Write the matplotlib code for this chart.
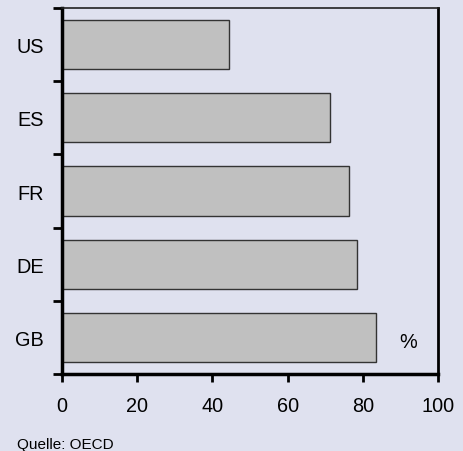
import numpy as np
import matplotlib.pyplot as plt

plt.rcParams['font.family'] = ['Liberation Sans', 'DejaVu Sans']

countries = ['GB', 'DE', 'FR', 'ES', 'US']
shares = [83.5, 78.4, 76.3, 71.3, 44.4]
x_ticks = [0, 20, 40, 60, 80, 100]

BG = '#DFE1EF'
FS = 14.3

fig = plt.figure(figsize=(4.64, 4.52), dpi=100, facecolor=BG)
ax = fig.add_axes([62/464, 77/452, 376/464, 366/452], facecolor=BG)

pos = np.arange(len(countries))
ax.barh(pos, shares, height=0.67, color='#C0C0C0', edgecolor='#333333', linewidth=1.0)

ax.set_xlim(0, 100)
ax.set_ylim(-0.5, len(countries) - 0.5)

# x axis
ax.set_xticks(x_ticks)
ax.set_xticklabels([str(t) for t in x_ticks], fontsize=FS)
ax.tick_params(axis='x', direction='out', length=6, width=2, pad=10)

# y axis: labels at bar centres, tick marks between bars
ax.set_yticks(pos)
ax.set_yticklabels(countries, fontsize=FS)
ax.set_yticks(np.arange(-0.5, len(countries)), minor=True)
ax.tick_params(axis='y', which='major', length=0, pad=13)
ax.tick_params(axis='y', which='minor', direction='out', length=6.5, width=2)

for side in ['left', 'bottom']:
    ax.spines[side].set_linewidth(2.5)
ax.spines['right'].set_linewidth(2)
ax.spines['top'].set_linewidth(1.2)
ax.spines['top'].set_color('#222222')

ax.text(92, -0.05, '%', fontsize=FS, ha='center', va='center')
fig.text(17/464, 1 - 445/452, 'Quelle: OECD', fontsize=11, ha='left', va='center')

fig.savefig('out.png', dpi=100, facecolor=BG)
